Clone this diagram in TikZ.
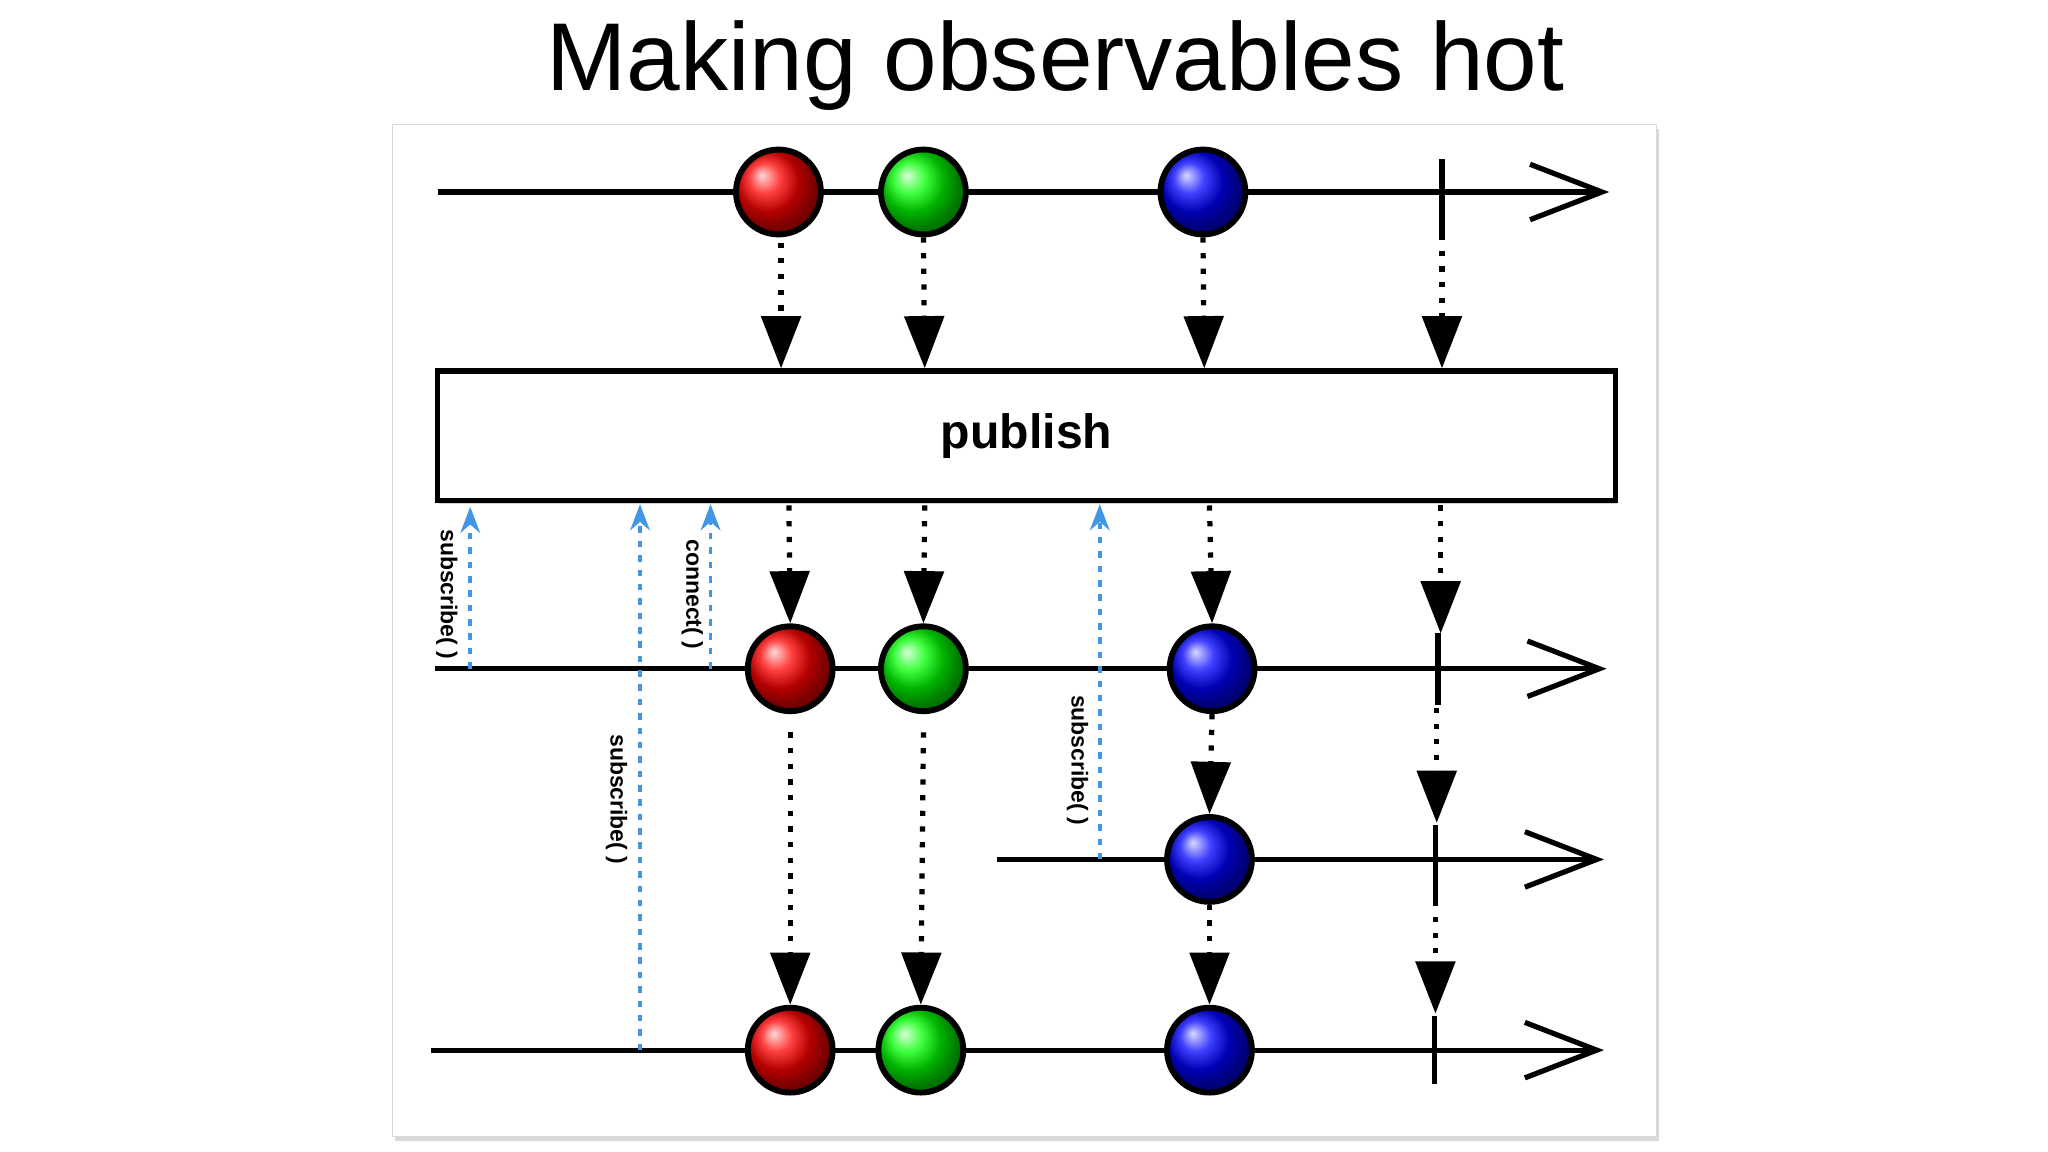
\documentclass[tikz,border=0pt]{standalone}
\usepackage{fontspec}
\setmainfont{Liberation Sans}
\usetikzlibrary{arrows.meta,shadows}
\begin{document}
\begin{tikzpicture}[x=0.02cm,y=-0.02cm,
  tl/.style={line width=0.08cm,-{Straight Barb[length=1.1cm,width=0.85cm,line width=0.08cm]}},
  ball/.style={circle,draw=black,line width=0.09cm,minimum size=1.3cm,inner sep=0pt,shading=ball},
  dot/.style={line width=0.08cm,dash pattern=on 0.08cm off 0.16cm,-{Triangle[length=0.8cm,width=0.6cm]}},
  sub/.style={line width=0.06cm,draw={rgb,255:red,66;green,150;blue,230},dash pattern=on 0.1cm off 0.12cm,-{Stealth[length=0.4cm,width=0.3cm]}},
  lab/.style={rotate=-90,font=\bfseries\fontsize{10}{12}\selectfont,inner sep=1pt},
  tick/.style={line width=0.08cm}]
\useasboundingbox (0,0) rectangle (1568,882);
\node (title) at (808,50) {\fontsize{42}{50}\selectfont Making observables hot};
\node (frame) [draw=black!15,fill=white,drop shadow={shadow xshift=0.04cm,shadow yshift=-0.08cm,opacity=0.3},minimum width=19.36cm,minimum height=15.5cm,inner sep=0pt] at (784,482.5) {};
% line 1
\coordinate (a0) at (335,147); \coordinate (a1) at (1232,147);
\draw[tl] (a0) -- (a1);
\draw[tick] (1104,122) -- (1104,180);
\node[ball,ball color=red] (r1) at (596,147) {};
\node[ball,ball color=green] (g1) at (707,147) {};
\node[ball,ball color=blue] (b1) at (921,147) {};
\coordinate (t1) at (1104,180);
% publish box
\node (pub) [draw,line width=0.08cm,fill=white,drop shadow={shadow xshift=0.02cm,shadow yshift=-0.06cm,opacity=0.35},minimum width=18.04cm,minimum height=1.98cm,inner sep=0pt,font=\bfseries\fontsize{21}{24}\selectfont] at (786,333.5) {publish};
\draw[dot] (r1.south) ++(2,4) coordinate(x1) -- (598,282);
\draw[dot] (g1.south) -- (708,282);
\draw[dot] (b1.south) -- (922,282);
\draw[dot] (t1) -- (1104,282);
% line 2
\draw[tl] (333,512) -- (1230,512);
\draw[tick] (1101,485) -- (1101,540);
\node[ball,ball color=red] (r2) at (605,512) {};
\node[ball,ball color=green] (g2) at (707,512) {};
\node[ball,ball color=blue] (b2) at (928,512) {};
\draw[dot] (604,387) -- (r2.north);
\draw[dot] (708,387) -- (g2.north);
\draw[dot] (926,387) -- (b2.north);
\draw[dot] (1103,387) -- (1103,485);
% line 3
\draw[tl] (763,658) -- (1228,658);
\draw[tick] (1099,632) -- (1099,690);
\node[ball,ball color=blue] (b3) at (926,658) {};
\draw[dot] (b2.south) -- (b3.north);
\draw[dot] (1100,542) -- (1100,630);
% line 4
\draw[tl] (330,804) -- (1228,804);
\draw[tick] (1098,778) -- (1098,830);
\node[ball,ball color=red] (r4) at (605,804) {};
\node[ball,ball color=green] (g4) at (705,804) {};
\node[ball,ball color=blue] (b4) at (926,804) {};
\draw[dot] (r2.south) ++(0,14) -- (r4.north);
\draw[dot] (g2.south) ++(0,14) -- (g4.north);
\draw[dot] (b3.south) -- (b4.north);
\draw[dot] (1099,690) -- (1099,776);
% subscriptions
\draw[sub] (360,512) -- (360,388);
\node[lab] (s1) at (342,455) {subscribe( )};
\draw[sub] (490,804) -- (490,386);
\node[lab] (s2) at (472,612) {subscribe( )};
\draw[sub] (544,512) -- (544,386);
\node[lab] (c1) at (530,455) {connect( )};
\draw[sub] (842,658) -- (842,386);
\node[lab] (s3) at (825,582) {subscribe( )};
\end{tikzpicture}
\end{document}
